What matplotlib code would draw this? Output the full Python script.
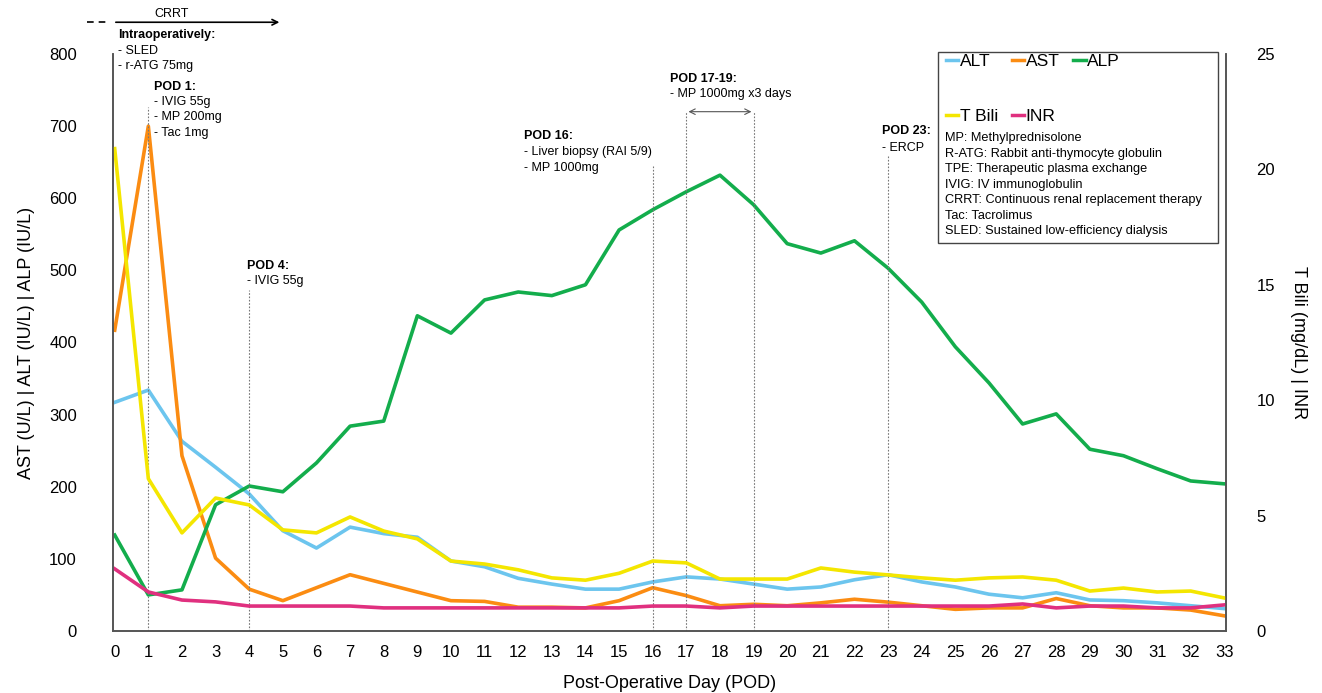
import matplotlib
matplotlib.use("Agg")
import matplotlib.pyplot as plt
from matplotlib.patches import Rectangle

plt.rcParams["font.family"] = ["Liberation Sans", "DejaVu Sans"]

pod = list(range(34))

alt = [317, 334, 263, 227, 190, 139, 115, 144, 135, 130, 97, 89, 73, 65, 58, 58, 68,
       75, 72, 65, 58, 61, 71, 78, 68, 61, 51, 46, 53, 43, 42, 39, 35, 31]
ast = [417, 700, 243, 101, 58, 42, 60, 78, 66, 54, 42, 41, 33, 33, 32, 42, 60,
       49, 35, 37, 35, 39, 44, 40, 35, 30, 32, 32, 45, 35, 32, 32, 29, 21]
alp = [133, 50, 57, 175, 201, 193, 233, 284, 291, 437, 413, 459, 470, 465, 480, 556, 584,
       609, 632, 591, 537, 524, 541, 503, 456, 394, 344, 287, 301, 252, 243, 225, 208, 204]
tbili = [20.9, 6.6, 4.25, 5.76, 5.46, 4.38, 4.25, 4.94, 4.33, 3.99, 3.03, 2.9, 2.65, 2.3,
         2.2, 2.5, 3.03, 2.95, 2.25, 2.25, 2.25, 2.73, 2.55, 2.43, 2.3, 2.2, 2.3, 2.34,
         2.2, 1.73, 1.86, 1.69, 1.73, 1.43]
inr = [2.69, 1.69, 1.34, 1.26, 1.08, 1.08, 1.08, 1.08, 1.0, 1.0, 1.0, 1.0, 1.0, 1.0,
       1.0, 1.0, 1.08, 1.08, 1.0, 1.08, 1.08, 1.08, 1.08, 1.08, 1.08, 1.08, 1.08, 1.17,
       1.0, 1.08, 1.08, 1.0, 1.0, 1.13]

colors = {"ALT": "#6cc5ee", "AST": "#fb8c12", "ALP": "#13ad4c",
          "T Bili": "#f4e600", "INR": "#e0307f"}

abbrev = ["MP: Methylprednisolone",
          "R-ATG: Rabbit anti-thymocyte globulin",
          "TPE: Therapeutic plasma exchange",
          "IVIG: IV immunoglobulin",
          "CRRT: Continuous renal replacement therapy",
          "Tac: Tacrolimus",
          "SLED: Sustained low-efficiency dialysis"]

fig = plt.figure(figsize=(13.22, 6.93), dpi=100)
ax = fig.add_axes([0.0855, 0.0895, 0.8419, 0.8326])
ax2 = ax.twinx()

lw = 2.6
h_alt, = ax.plot(pod, alt, color=colors["ALT"], lw=lw, label="ALT")
h_ast, = ax.plot(pod, ast, color=colors["AST"], lw=lw, label="AST")
h_alp, = ax.plot(pod, alp, color=colors["ALP"], lw=lw, label="ALP")
h_tb, = ax2.plot(pod, tbili, color=colors["T Bili"], lw=lw, label="T Bili")
h_inr, = ax2.plot(pod, inr, color=colors["INR"], lw=lw, label="INR")

ax.set_xlim(-0.05, 33.05)
ax.set_ylim(0, 800)
ax2.set_ylim(0, 25)
ax.set_xticks(pod)
ax.set_yticks(range(0, 801, 100))
ax2.set_yticks(range(0, 26, 5))
for a in (ax, ax2):
    a.tick_params(length=0, labelsize=12, pad=10)
    a.spines["top"].set_visible(False)
    for s in ("left", "right", "bottom"):
        a.spines[s].set_color("#555555")
        a.spines[s].set_linewidth(1.2)
ax.tick_params(axis="y", pad=26)
ax2.tick_params(axis="y", pad=22)

ax.set_xlabel("Post-Operative Day (POD)", fontsize=13, labelpad=11)
ax.set_ylabel("AST (U/L) | ALT (IU/L) | ALP (IU/L)", fontsize=13, labelpad=10)
ax2.set_ylabel("T Bili (mg/dL) | INR", fontsize=13, rotation=270, labelpad=23)

# event markers
vl = dict(color="#777777", lw=0.8, ls=(0, (1.5, 1.5)))
ax.vlines(1, 0, 726, **vl)
ax.vlines(4, 0, 473, **vl)
ax.vlines(16, 0, 646, **vl)
ax.vlines([17, 19], 0, 720, **vl)
ax.vlines(23, 0, 660, **vl)
ax.annotate("", xy=(16.98, 720), xytext=(19.02, 720),
            arrowprops=dict(arrowstyle="<->", color="#555555", lw=0.8))

fs = 9
def note(x, y, head, body, gap=21):
    ax.text(x, y, head, fontsize=fs, fontweight="bold", va="top", ha="left")
    ax.text(x, y - gap, body, fontsize=fs, va="top", ha="left", linespacing=1.4)

note(0.09, 834, "Intraoperatively:", "- SLED\n- r-ATG 75mg")
note(1.16, 763, "POD 1:", "- IVIG 55g\n- MP 200mg\n- Tac 1mg")
note(3.94, 515, "POD 4:", "- IVIG 55g")
note(12.16, 695, "POD 16:", "- Liver biopsy (RAI 5/9)\n- MP 1000mg", gap=23)
note(16.51, 774, "POD 17-19:", "- MP 1000mg x3 days")
note(22.83, 701, "POD 23:", "- ERCP", gap=23)

# CRRT arrow above the axes
tr = ax.get_xaxis_transform()
ax.plot([-0.83, -0.24], [1.055, 1.055], transform=tr, color="black", lw=1.2,
        ls=(0, (4, 3)), clip_on=False)
ax.annotate("", xy=(4.98, 1.055), xytext=(-0.05, 1.055), xycoords=tr, textcoords=tr,
            arrowprops=dict(arrowstyle="->", color="black", lw=1.2))
ax.text(1.7, 1.07, "CRRT", transform=tr, fontsize=9, ha="center", va="center")

# legend box
ax2.add_patch(Rectangle((0.741, 0.672), 0.252, 0.331, transform=ax2.transAxes,
                        fill=False, ec="#444444", lw=1.0, clip_on=False, zorder=5))
leg = ax2.legend([h_alt, h_tb, h_ast, h_inr, h_alp],
                 ["ALT", "T Bili", "AST", "INR", "ALP"],
                 ncol=3, loc="upper left", bbox_to_anchor=(0.742, 1.012),
                 frameon=False, fontsize=12.5, handlelength=0.7, handletextpad=0.1,
                 columnspacing=0.8, labelspacing=2.3, borderaxespad=0)
for h in leg.get_lines():
    h.set_linewidth(2.5)
ax2.text(0.7475, 0.864, "\n".join(abbrev), transform=ax2.transAxes, fontsize=9.2,
         va="top", ha="left", linespacing=1.38)

fig.savefig("out.png", dpi=100)
